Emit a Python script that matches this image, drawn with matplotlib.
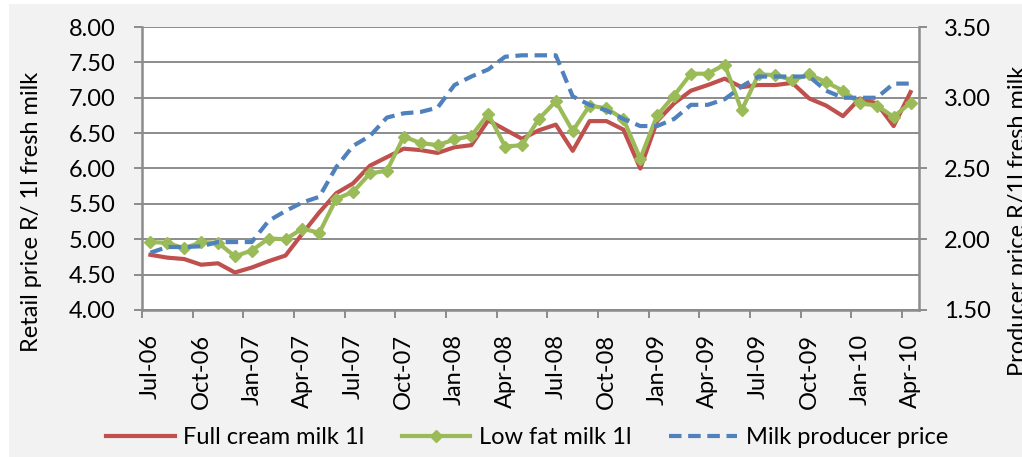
import matplotlib.pyplot as plt
from matplotlib.patches import Rectangle
import numpy as np

plt.rcParams['font.family'] = ['Lato', 'DejaVu Sans']

# month labels, Jul-06 .. Apr-10 (46 months)
months = ['Jul-06', 'Aug-06', 'Sep-06', 'Oct-06', 'Nov-06', 'Dec-06',
          'Jan-07', 'Feb-07', 'Mar-07', 'Apr-07', 'May-07', 'Jun-07',
          'Jul-07', 'Aug-07', 'Sep-07', 'Oct-07', 'Nov-07', 'Dec-07',
          'Jan-08', 'Feb-08', 'Mar-08', 'Apr-08', 'May-08', 'Jun-08',
          'Jul-08', 'Aug-08', 'Sep-08', 'Oct-08', 'Nov-08', 'Dec-08',
          'Jan-09', 'Feb-09', 'Mar-09', 'Apr-09', 'May-09', 'Jun-09',
          'Jul-09', 'Aug-09', 'Sep-09', 'Oct-09', 'Nov-09', 'Dec-09',
          'Jan-10', 'Feb-10', 'Mar-10', 'Apr-10']

full_cream = [4.78, 4.74, 4.72, 4.64, 4.66, 4.53, 4.60, 4.69, 4.77, 5.08,
              5.38, 5.65, 5.79, 6.04, 6.16, 6.28, 6.26, 6.22, 6.30, 6.33,
              6.68, 6.55, 6.42, 6.54, 6.62, 6.25, 6.67, 6.67, 6.55, 6.00,
              6.67, 6.92, 7.10, 7.18, 7.27, 7.15, 7.18, 7.18, 7.21, 6.99,
              6.89, 6.74, 6.99, 6.92, 6.60, 7.08]

low_fat = [4.96, 4.95, 4.87, 4.96, 4.95, 4.76, 4.84, 5.01, 5.00, 5.15,
           5.09, 5.57, 5.67, 5.93, 5.97, 6.45, 6.36, 6.33, 6.41, 6.46,
           6.77, 6.31, 6.33, 6.70, 6.95, 6.53, 6.89, 6.85, 6.70, 6.14,
           6.75, 7.03, 7.34, 7.34, 7.47, 6.82, 7.33, 7.32, 7.25, 7.33,
           7.22, 7.10, 6.92, 6.89, 6.73, 6.93]

producer = [1.905, 1.945, 1.945, 1.95, 1.98, 1.98, 1.98, 2.13, 2.20, 2.26,
            2.30, 2.51, 2.66, 2.73, 2.86, 2.89, 2.90, 2.93, 3.09, 3.15,
            3.20, 3.29, 3.30, 3.30, 3.30, 3.01, 2.95, 2.91, 2.85, 2.80,
            2.80, 2.85, 2.95, 2.95, 2.99, 3.08, 3.15, 3.15, 3.15, 3.15,
            3.05, 3.00, 3.00, 3.00, 3.10, 3.10]

red = '#C0504D'
green = '#9BBB59'
blue = '#4F81BD'
grid_col = '#8C8C8C'
fs = 17

fig = plt.figure(figsize=(10.22, 4.57), dpi=100, facecolor='white')
fig.patches.append(Rectangle((9 / 1022, 0), 1, 1 - 4 / 457, transform=fig.transFigure,
                             facecolor='#F2F2F2', edgecolor='none', zorder=-10))

ax = fig.add_axes([0.1389, 0.3217, 0.7603, 0.6192])
ax.set_facecolor('white')
x = np.arange(len(months))

l1, = ax.plot(x, full_cream, color=red, lw=3, label='Full cream milk 1l', zorder=3)
l2, = ax.plot(x, low_fat, color=green, lw=3, marker='D', ms=6, mec=green,
              label='Low fat milk 1l', zorder=4)

ax.set_ylim(4, 8)
ax.set_yticks(np.arange(4, 8.01, 0.5))
ax.set_yticklabels(['%.2f' % v for v in np.arange(4, 8.01, 0.5)], fontsize=fs)
ax.grid(axis='y', color=grid_col, lw=1.4)
ax.set_axisbelow(True)
ax.set_xlim(-0.5, len(months) - 0.5)

# labels at month centres, tick marks at category boundaries
ax.set_xticks(x[::3])
ax.set_xticklabels(months[::3], rotation=90, fontsize=fs)
ax.set_xticks(np.arange(-0.5, len(months) - 0.5, 3), minor=True)
ax.tick_params(axis='x', which='major', length=0, pad=17)
ax.tick_params(axis='x', which='minor', length=6, width=1.4, color=grid_col)
ax.tick_params(axis='y', length=6, width=1.4, color=grid_col, pad=13)

for s in ['left', 'bottom']:
    ax.spines[s].set_color(grid_col)
    ax.spines[s].set_linewidth(1.8)
ax.spines['top'].set_visible(False)
ax.spines['right'].set_visible(False)

ax2 = ax.twinx()
l3, = ax2.plot(x, producer, color=blue, lw=3, ls=(0, (3, 1.6)),
               label='Milk producer price', zorder=2)
ax2.set_ylim(1.5, 3.5)
ax2.set_yticks(np.arange(1.5, 3.51, 0.5))
ax2.set_yticklabels(['%.2f' % v for v in np.arange(1.5, 3.51, 0.5)], fontsize=fs)
ax2.tick_params(axis='y', length=6, width=1.4, color=grid_col, pad=12)
ax2.spines['right'].set_color(grid_col)
ax2.spines['right'].set_linewidth(1.8)
for s in ['left', 'top', 'bottom']:
    ax2.spines[s].set_visible(False)
ax2.patch.set_visible(False)

fig.text(32 / 1022, 1 - 212 / 457, 'Retail price R/ 1l fresh milk', rotation=90,
         ha='center', va='center', fontsize=fs)
fig.text(1008 / 1022, 1 - 221 / 457, 'Producer price R/1l fresh milk', rotation=90,
         ha='left', va='center', fontsize=fs)

fig.legend(handles=[l1, l2, l3], loc='center', bbox_to_anchor=(527 / 1022, 1 - 438 / 457),
           ncol=3, frameon=False, fontsize=fs, handlelength=2.9, handletextpad=0.35,
           columnspacing=1.6)

fig.savefig('out.png', dpi=100, facecolor=fig.get_facecolor())
